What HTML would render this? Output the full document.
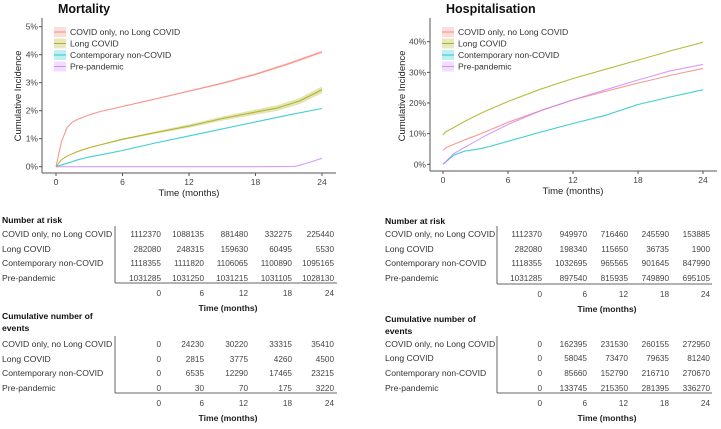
<!DOCTYPE html>
<html><head><meta charset="utf-8">
<style>
html,body{margin:0;padding:0;background:#fff;}
body{width:721px;height:424px;overflow:hidden;font-family:"Liberation Sans",Arial,sans-serif;}
svg text{font-family:"Liberation Sans",Arial,sans-serif;}
</style></head>
<body>
<svg id="root" width="721" height="424" viewBox="0 0 721 424" xmlns="http://www.w3.org/2000/svg"></svg>
<script>
// ---- data ----
const seriesNames = ["COVID only, no Long COVID","Long COVID","Contemporary non-COVID","Pre-pandemic"];
const seriesColors = ["#F8766D","#A3A500","#00BFC4","#C77CFF"];
const xTicks = [0,6,12,18,24];
const mortYTicks = [0,1,2,3,4,5];
const hospYTicks = [0,10,20,30,40];
// Mortality (%)
const mortCovidT = [0,0.5,1,1.5,2,3,4,6,9,12,15,18,21,24];
const mortCovidV = [0,0.9,1.4,1.6,1.7,1.85,1.97,2.15,2.42,2.7,2.98,3.3,3.68,4.1];
const mortLongT = [0,0.5,1,2,3,4,6,9,12,15,18,20,22,24];
const mortLongV = [0,0.25,0.38,0.55,0.68,0.78,0.98,1.22,1.45,1.72,1.95,2.1,2.35,2.75];
const mortContT = [0,1,2,3,4,6,9,12,15,18,21,24];
const mortContV = [0,0.12,0.25,0.35,0.42,0.58,0.85,1.1,1.35,1.6,1.85,2.08];
const mortPreT = [0,6,12,18,21.5,22,23,24];
const mortPreV = [0,0,0,0,0.01,0.05,0.17,0.3];
// Hospitalisation (%)
const hospCovidT = [0,0.3,1,2,3,4,6,9,12,15,18,21,24];
const hospCovidV = [4.5,5.5,6.5,8,9.3,10.7,13.7,17.5,21,23.8,26.5,29,31.3];
const hospLongT = [0,0.2,1,2,3,4,6,9,12,15,18,21,24];
const hospLongV = [9.5,10.5,12,14,15.8,17.5,20.5,24.5,28,31,34,37,39.8];
const hospContT = [0,1,2,3,4,6,9,12,15,18,21,24];
const hospContV = [0,3,4.3,4.8,5.5,7.5,10.5,13.3,16,19.5,22,24.3];
const hospPreT = [0,1,2,3,4,6,9,12,15,18,21,24];
const hospPreV = [0,3.5,5.5,7.5,9.5,13,17.5,21,24.3,27.5,30.5,32.6];
// Tables
const riskMort = [[1112370,1088135,881480,332275,225440],[282080,248315,159630,60495,5530],[1118355,1111820,1106065,1100890,1095165],[1031285,1031250,1031215,1031105,1028130]];
const eventsMort = [[0,24230,30220,33315,35410],[0,2815,3775,4260,4500],[0,6535,12290,17465,23215],[0,30,70,175,3220]];
const riskHosp = [[1112370,949970,716460,245590,153885],[282080,198340,115650,36735,1900],[1118355,1032695,965565,901645,847990],[1031285,897540,815935,749890,695105]];
const eventsHosp = [[0,162395,231530,260155,272950],[0,58045,73470,79635,81240],[0,85660,152790,216710,270670],[0,133745,215350,281395,336270]];

const NS="http://www.w3.org/2000/svg";
const root=document.getElementById('root');
function el(tag,attrs,parent,text){const e=document.createElementNS(NS,tag);for(const k in attrs)e.setAttribute(k,attrs[k]);if(text!==undefined)e.textContent=text;(parent||root).appendChild(e);return e;}

function panel(cfg){
  const g=el('g',{});
  
  
  const xs=t=>cfg.x0+(cfg.x24-cfg.x0)*t/24;
  const ys=v=>cfg.y0-(cfg.y0-cfg.yTop)*v/cfg.yTopVal;
  const title=el('text',{x:cfg.titleX,y:13,'font-size':'12.5','font-weight':'bold',fill:'#111'},g,cfg.title);
  
  
  el('line',{x1:cfg.axX,y1:18,x2:cfg.axX,y2:cfg.axY,stroke:'#555','stroke-width':1},g);
  el('line',{x1:cfg.axX,y1:cfg.axY,x2:cfg.axRight,y2:cfg.axY,stroke:'#555','stroke-width':1},g);
  cfg.yTicks.forEach(v=>{
    const y=ys(v);
    el('line',{x1:cfg.axX-3,y1:y,x2:cfg.axX,y2:y,stroke:'#555'},g);
    const t=el('text',{x:cfg.axX-4,y:y+3,'font-size':'8.5','text-anchor':'end',fill:'#444'},g,v+'%');
    
    
  });
  xTicks.forEach(v=>{
    const x=xs(v);
    el('line',{x1:x,y1:cfg.axY,x2:x,y2:cfg.axY+3,stroke:'#555'},g);
    const t=el('text',{x:x,y:cfg.axY+12,'font-size':'8.5','text-anchor':'middle',fill:'#444'},g,String(v));
    
    
  });
  const xt=el('text',{x:(xs(0)+xs(24))/2,y:cfg.axY+23,'font-size':'9.5','text-anchor':'middle',fill:'#222'},g,'Time (months)');
  
  
  const yt=el('text',{x:0,y:0,'font-size':'9.5','text-anchor':'middle',fill:'#222',transform:`translate(${cfg.yTitleX},${cfg.yTitleY}) rotate(-90)`},g,'Cumulative Incidence');
  
  
  cfg.series.forEach((s,i)=>{
    const pts=s.t.map((t,j)=>[xs(t),ys(s.v[j])]);
    if(s.band){
      const up=s.t.map((t,j)=>[xs(t),ys(s.v[j]+s.band*t/24)]);
      const dn=s.t.map((t,j)=>[xs(t),ys(Math.max(0,s.v[j]-s.band*t/24))]).reverse();
      const b=el('polygon',{points:up.concat(dn).map(p=>p.join(',')).join(' '),fill:seriesColors[i],opacity:0.3},g);
      
      
    }
    const p=el('polyline',{points:pts.map(p=>p.map(n=>n.toFixed(1)).join(',')).join(' '),fill:'none',stroke:seriesColors[i],'stroke-width':1.1,opacity:0.75,'stroke-linejoin':'round'},g);
    
    
  });
  seriesNames.forEach((n,i)=>{
    const cy=32+i*11.5;
    const lg=el('g',{},g);
    
    
    el('rect',{x:cfg.legX,y:cy-5,width:12,height:10,fill:seriesColors[i],opacity:0.25},lg);
    el('line',{x1:cfg.legX,y1:cy,x2:cfg.legX+12,y2:cy,stroke:seriesColors[i],'stroke-width':1,opacity:0.8},lg);
    el('text',{x:cfg.legX+16,y:cy+3,'font-size':'8.6',fill:'#333'},lg,n);
  });
}

panel({name:'mortality-chart',title:'Mortality',titleX:58,x0:56,x24:322,axX:42,axY:173,axRight:336,y0:166.7,yTop:26.7,yTopVal:5,yTicks:mortYTicks,yTitleX:21,yTitleY:96,legX:54,
  series:[{t:mortCovidT,v:mortCovidV,band:0.05},{t:mortLongT,v:mortLongV,band:0.12},{t:mortContT,v:mortContV},{t:mortPreT,v:mortPreV}]});
panel({name:'hospitalisation-chart',title:'Hospitalisation',titleX:446,x0:443,x24:703,axX:430,axY:171,axRight:717,y0:164.3,yTop:41.7,yTopVal:40,yTicks:hospYTicks,yTitleX:405,yTitleY:96,legX:442,
  series:[{t:hospCovidT,v:hospCovidV},{t:hospLongT,v:hospLongV},{t:hospContT,v:hospContV},{t:hospPreT,v:hospPreV}]});

function table(cfg){
  const g=el('g',{});
  
  
  cfg.titleLines.forEach((l,k)=>el('text',{x:cfg.lx,y:cfg.titleY+k*12,'font-size':'8.6','font-weight':'bold',fill:'#111'},g,l));
  seriesNames.forEach((n,i)=>{
    const y=cfg.rowY[i];
    el('text',{x:cfg.lx,y:y+3,'font-size':'8.6',fill:'#333'},g,n);
    cfg.data[i].forEach((v,j)=>{
      const t=el('text',{x:cfg.colX[j],y:y+3,'font-size':'8.2','text-anchor':'end',fill:'#444'},g,String(v));
      
      
    });
  });
  el('line',{x1:cfg.divX,y1:cfg.rowY[0]-8,x2:cfg.divX,y2:cfg.hY,stroke:'#666'},g);
  el('line',{x1:cfg.divX,y1:cfg.hY,x2:cfg.hEnd,y2:cfg.hY,stroke:'#666'},g);
  xTicks.forEach((v,j)=>el('text',{x:cfg.colX[j],y:cfg.hY+13,'font-size':'8.2','text-anchor':'end',fill:'#444'},g,String(v)));
  el('text',{x:cfg.timeX,y:cfg.hY+28,'font-size':'8.6','font-weight':'bold','text-anchor':'middle',fill:'#222'},g,'Time (months)');
}
const lCols=[161,204,248,292,334], rCols=[542,587,628,669,710];
table({name:'mortality-risk-table',lx:2,titleLines:['Number at risk'],titleY:223,rowY:[234,249,263,278],data:riskMort,colX:lCols,divX:115,hY:283,hEnd:337,timeX:228});
table({name:'mortality-events-table',lx:2,titleLines:['Cumulative number of','events'],titleY:319,rowY:[344,359,373,388],data:eventsMort,colX:lCols,divX:115,hY:393,hEnd:337,timeX:228});
table({name:'hospitalisation-risk-table',lx:385,titleLines:['Number at risk'],titleY:224,rowY:[234,249,263,278],data:riskHosp,colX:rCols,divX:497,hY:284,hEnd:712,timeX:607});
table({name:'hospitalisation-events-table',lx:385,titleLines:['Cumulative number of','events'],titleY:322,rowY:[344,358,373,388],data:eventsHosp,colX:rCols,divX:497,hY:393,hEnd:712,timeX:607});
</script>
</body></html>
